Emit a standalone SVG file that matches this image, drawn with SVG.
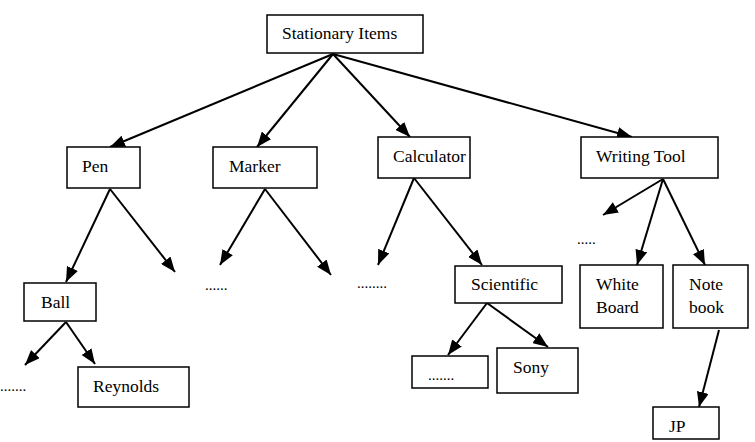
<svg xmlns="http://www.w3.org/2000/svg" width="755" height="442" viewBox="0 0 755 442">
  <style>
    .box { fill: #ffffff; stroke: #000000; stroke-width: 1.5; }
    .lbl { font-size: 17.5px; fill: #000000; }
    .dots { font-size: 15px; fill: #000000; }
    .edge { stroke: #000000; stroke-width: 2; fill: none; marker-end: url(#arrow); }
  </style>
  <defs>
    <marker id="arrow" markerUnits="userSpaceOnUse" markerWidth="16" markerHeight="12" refX="15" refY="6" orient="auto">
      <path d="M0,0 L15,6 L0,12 z" fill="#000000"/>
    </marker>
  </defs>
  <rect width="755" height="442" fill="#ffffff"/>

  <g id="connectors">
    <line class="edge" x1="333" y1="54" x2="110" y2="147"/>
    <line class="edge" x1="333" y1="54" x2="257" y2="147"/>
    <line class="edge" x1="333" y1="54" x2="410" y2="137"/>
    <line class="edge" x1="333" y1="54" x2="632" y2="137"/>
    <line class="edge" x1="110" y1="189" x2="66" y2="282"/>
    <line class="edge" x1="110" y1="189" x2="175" y2="272"/>
    <line class="edge" x1="265" y1="189" x2="220" y2="265"/>
    <line class="edge" x1="265" y1="189" x2="331" y2="275"/>
    <line class="edge" x1="414" y1="178" x2="378" y2="265"/>
    <line class="edge" x1="414" y1="178" x2="482" y2="265"/>
    <line class="edge" x1="663" y1="179" x2="603" y2="215"/>
    <line class="edge" x1="663" y1="179" x2="637" y2="265"/>
    <line class="edge" x1="663" y1="179" x2="705" y2="265"/>
    <line class="edge" x1="66" y1="322" x2="25" y2="365"/>
    <line class="edge" x1="66" y1="322" x2="95" y2="364"/>
    <line class="edge" x1="487" y1="303" x2="448" y2="355"/>
    <line class="edge" x1="487" y1="303" x2="548" y2="347"/>
    <line class="edge" x1="719" y1="330" x2="699" y2="407"/>
  </g>

  <g font-family="Liberation Serif, Times New Roman, DejaVu Serif, serif">
    <g id="stationary-items">
      <rect class="box" x="267" y="15" width="156" height="38"/>
      <text class="lbl" x="282" y="39">Stationary Items</text>
    </g>
    <g id="pen">
      <rect class="box" x="67" y="147" width="73" height="41"/>
      <text class="lbl" x="82" y="172">Pen</text>
    </g>
    <g id="marker">
      <rect class="box" x="213" y="147" width="104" height="41"/>
      <text class="lbl" x="229" y="172">Marker</text>
    </g>
    <g id="calculator">
      <rect class="box" x="378" y="137" width="92" height="41"/>
      <text class="lbl" x="393" y="162">Calculator</text>
    </g>
    <g id="writing-tool">
      <rect class="box" x="581" y="137" width="137" height="41"/>
      <text class="lbl" x="596" y="162">Writing Tool</text>
    </g>
    <g id="ball">
      <rect class="box" x="24" y="283" width="72" height="38"/>
      <text class="lbl" x="41" y="308">Ball</text>
    </g>
    <g id="reynolds">
      <rect class="box" x="78" y="367" width="111" height="40"/>
      <text class="lbl" x="93" y="392">Reynolds</text>
    </g>
    <g id="scientific">
      <rect class="box" x="455" y="266" width="107" height="37"/>
      <text class="lbl" x="471" y="290">Scientific</text>
    </g>
    <g id="scientific-other">
      <rect class="box" x="412" y="356" width="76" height="32"/>
      <text class="dots" x="428" y="380">.......</text>
    </g>
    <g id="sony">
      <rect class="box" x="497" y="348" width="81" height="45"/>
      <text class="lbl" x="513" y="373">Sony</text>
    </g>
    <g id="white-board">
      <rect class="box" x="580" y="265" width="83" height="63"/>
      <text class="lbl" x="596" y="290">White</text>
      <text class="lbl" x="596" y="313">Board</text>
    </g>
    <g id="notebook">
      <rect class="box" x="673" y="265" width="75" height="63"/>
      <text class="lbl" x="689" y="290">Note</text>
      <text class="lbl" x="689" y="313">book</text>
    </g>
    <g id="jp">
      <rect class="box" x="653" y="407" width="66" height="32"/>
      <text class="lbl" x="669" y="432">JP</text>
    </g>

    <g id="ellipses">
      <text class="dots" x="0" y="391">.......</text>
      <text class="dots" x="205" y="290">......</text>
      <text class="dots" x="357" y="288">........</text>
      <text class="dots" x="577" y="244">.....</text>
    </g>
  </g>
</svg>
